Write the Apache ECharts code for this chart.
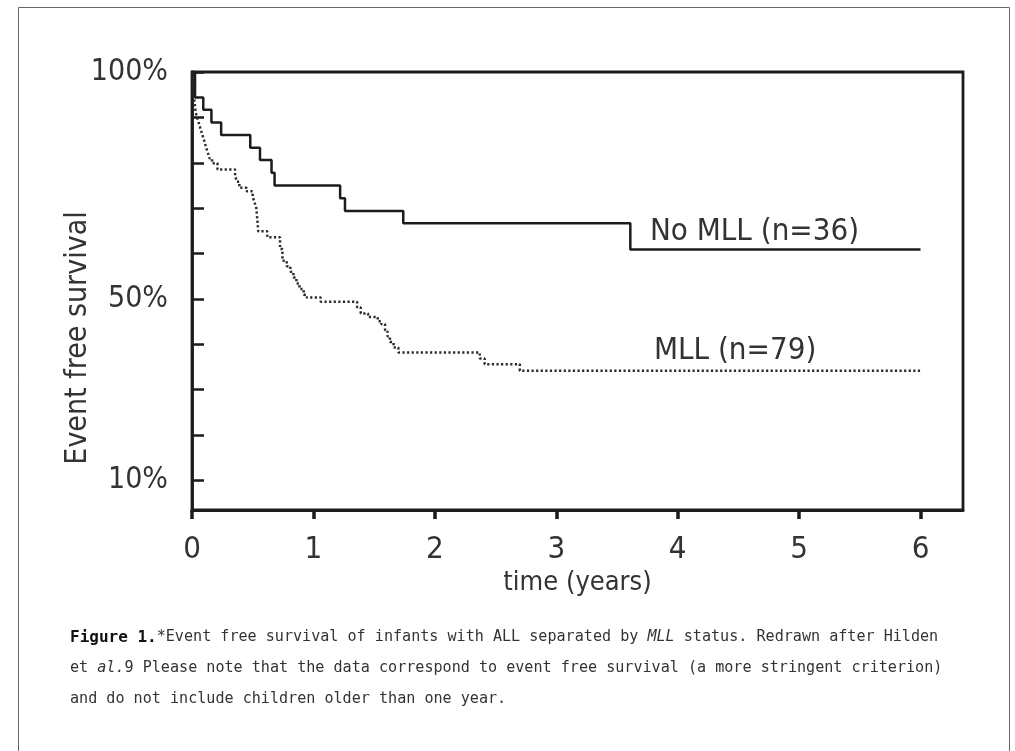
<!DOCTYPE html>
<html>
<head>
<meta charset="utf-8">
<script src="https://cdn.jsdelivr.net/npm/echarts@6/dist/echarts.min.js"></script>
<style>
  html, body { margin: 0; padding: 0; background: #fff; }
  #chart { width: 1015px; height: 751px; }
</style>
</head>
<body>
<div id="chart"></div>
<script>
// ---- data ----
const noMllTimes = [0, 0.025, 0.093, 0.16, 0.24, 0.48, 0.56, 0.655, 0.68, 1.22, 1.26, 1.74, 3.61, 6.0];
const noMllSurv  = [100, 94.4, 91.7, 88.9, 86.1, 83.3, 80.6, 77.8, 75.0, 72.2, 69.4, 66.7, 60.9, 60.9];

const mllTimes = [0, 0.01, 0.015, 0.025, 0.03, 0.043, 0.058, 0.072, 0.086, 0.101, 0.115, 0.130, 0.144,
  0.165, 0.21, 0.355, 0.37, 0.39, 0.45, 0.50, 0.515, 0.53, 0.546, 0.62, 0.725, 0.745,
  0.78, 0.81, 0.835, 0.86, 0.885, 0.92, 0.945, 1.06, 1.36, 1.39, 1.45, 1.53, 1.56, 1.59,
  1.61, 1.63, 1.66, 1.70, 2.37, 2.41, 2.70, 6.0];
const mllSurv = [100, 97.5, 94.9, 92.4, 91.1, 89.9, 88.6, 87.3, 86.1, 84.8, 83.5, 82.3, 81.0,
  79.9, 78.5, 77.1, 75.8, 74.5, 73.7, 72.5, 71.3, 70.0, 64.9, 63.6, 61.0, 58.4,
  57.2, 56.0, 54.7, 53.4, 52.2, 50.9, 50.3, 49.4, 48.1, 46.8, 46.0, 45.1, 44.4, 43.1,
  41.8, 40.5, 39.3, 38.2, 36.9, 35.6, 34.2, 34.2];

const xTickValues = [0, 1, 2, 3, 4, 5, 6];
const yTickValues = [10, 20, 30, 40, 50, 60, 70, 80, 90, 100];
const yLabelValues = [100, 50, 10];
const seriesNames = ['No MLL (n=36)', 'MLL (n=79)'];
const xAxisTitle = 'time (years)';
const yAxisTitle = 'Event free survival';

const zip = (a, b) => a.map((v, i) => [v, b[i]]);

const chartFont = "'Liberation Sans Narrow', 'DejaVu Sans Condensed', 'Arial Narrow', sans-serif";
const captionFont = "'DejaVu Sans Mono', monospace";
const ink = '#1c1c1c';
const textInk = '#333';

const chart = echarts.init(document.getElementById('chart'), null, { renderer: 'canvas' });

const option = {
  backgroundColor: '#fff',
  animation: false,
  grid: {
    left: 192, top: 72, right: 52, bottom: 241,
    show: true, borderColor: ink, borderWidth: 2.8, backgroundColor: 'transparent'
  },
  xAxis: {
    type: 'value', min: 0, max: 6.35,
    name: xAxisTitle, nameLocation: 'middle', nameGap: 56,
    nameTextStyle: { fontFamily: chartFont, fontSize: 27, color: textInk },
    axisLine: { show: true, lineStyle: { color: ink, width: 2.8 } },
    axisTick: { show: true, customValues: xTickValues, inside: false, length: 9, lineStyle: { color: ink, width: 3.5 } },
    axisLabel: { customValues: xTickValues, fontFamily: chartFont, fontSize: 31, color: textInk, margin: 24 },
    splitLine: { show: false }
  },
  yAxis: {
    type: 'value', min: 3.5, max: 100,
    axisLine: { show: true, lineStyle: { color: ink, width: 2.8 } },
    axisTick: { show: true, customValues: yTickValues, inside: true, length: 12, lineStyle: { color: ink, width: 2.5 } },
    axisLabel: { customValues: yLabelValues, formatter: v => v + '%', fontFamily: chartFont, fontSize: 30, color: textInk, margin: 24 },
    splitLine: { show: false }
  },
  series: [
    {
      name: seriesNames[0], type: 'line', step: 'end', symbol: 'none',
      data: zip(noMllTimes, noMllSurv),
      lineStyle: { color: ink, width: 2.5 },
      z: 3
    },
    {
      name: seriesNames[1], type: 'line', step: 'end', symbol: 'none',
      data: zip(mllTimes, mllSurv),
      lineStyle: { color: '#2a2a2a', width: 2.5, type: [2.2, 2.4] },
      z: 2
    }
  ],
  graphic: [
    { type: 'rect', shape: { x: 18.5, y: 7.5, width: 991, height: 760 }, style: { fill: 'none', stroke: '#666', lineWidth: 1 }, silent: true },
    { type: 'text', x: 78, y: 338, rotation: Math.PI / 2,
      style: { text: yAxisTitle, font: "30px " + chartFont, fill: textInk, align: 'center', verticalAlign: 'middle' } },
    { type: 'text', left: 650, top: 216, style: { text: seriesNames[0], font: "31px " + chartFont, fill: textInk } },
    { type: 'text', left: 654, top: 335, style: { text: seriesNames[1], font: "31px " + chartFont, fill: textInk } },
    {
      type: 'text', left: 70, top: 622,
      style: {
        text: '{b|Figure 1.}{r|*Event free survival of infants with ALL separated by }{i|MLL}{r| status. Redrawn after Hilden}\n' +
              '{r|et }{i|al.}{r|9 Please note that the data correspond to event free survival (a more stringent criterion)}\n' +
              '{r|and do not include children older than one year.}',
        lineHeight: 31,
        rich: {
          b: { fontFamily: captionFont, fontSize: 16, fontWeight: 'bold', fill: '#111', lineHeight: 31 },
          r: { fontFamily: captionFont, fontSize: 15.1, fill: textInk, lineHeight: 31 },
          i: { fontFamily: captionFont, fontSize: 15.1, fontStyle: 'italic', fill: textInk, lineHeight: 31 }
        }
      }
    }
  ]
};

chart.setOption(option);
</script>
</body>
</html>
